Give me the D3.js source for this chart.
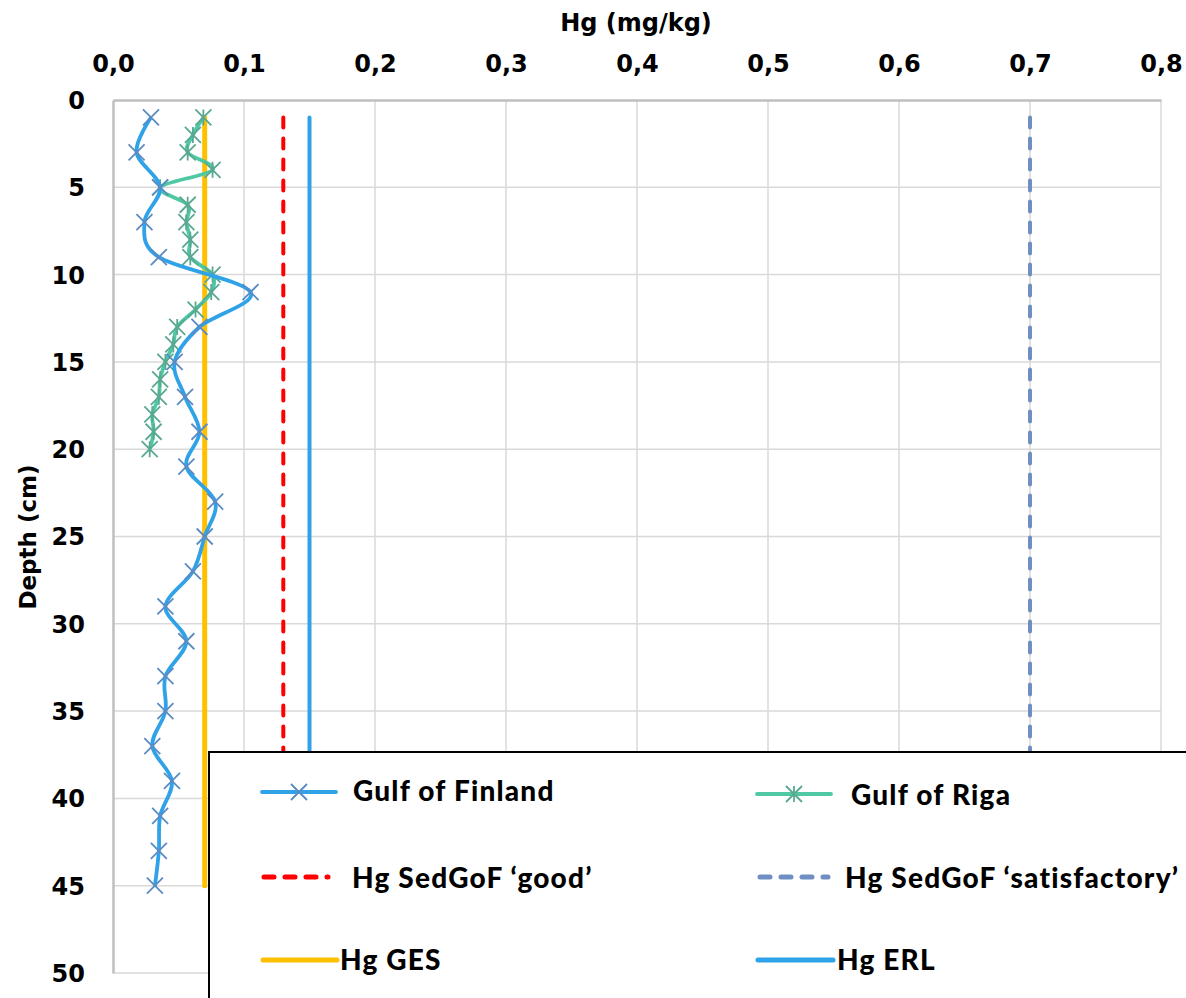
<!DOCTYPE html>
<meta charset="utf-8">
<style>
  body { margin: 0; background: #fff; }
  text { font-family: "DejaVu Sans", sans-serif; font-weight: bold; fill: #000; }
  .tick text { font-size: 24px; font-family: "DejaVu Sans", sans-serif; }
  .grid line { stroke: #d9d9d9; stroke-width: 1.5px; }
  .legend text { font-size: 28px; font-family: Lato, sans-serif; font-weight: 900; letter-spacing: 1.2px; }
</style>
<svg width="1186" height="998"></svg>
<script src="https://d3js.org/d3.v7.min.js"></script>
<script>

  // Gulf of Finland: sampled every 2 cm
  var finlandDepth = [1, 3, 5, 7, 9, 11, 13, 15, 17, 19, 21, 23, 25, 27, 29, 31, 33, 35, 37, 39, 41, 43, 45];
  var finlandHg = [0.029, 0.018, 0.036, 0.024, 0.035, 0.105, 0.066, 0.047, 0.055, 0.066, 0.056, 0.078, 0.070,
    0.061, 0.040, 0.056, 0.040, 0.040, 0.030, 0.045, 0.036, 0.035, 0.032];

  // Gulf of Riga: sampled every cm
  var rigaDepth = [1, 2, 3, 4, 5, 6, 7, 8, 9, 10, 11, 12, 13, 14, 15, 16, 17, 18, 19, 20];
  var rigaHg = [0.069, 0.061, 0.057, 0.076, 0.036, 0.057, 0.056, 0.059, 0.059, 0.076, 0.075, 0.063, 0.049,
    0.046, 0.040, 0.036, 0.035, 0.030, 0.031, 0.028];

  // threshold lines
  var thresholdNames = ["Hg SedGoF \u2018good\u2019", "Hg SedGoF \u2018satisfactory\u2019", "Hg GES", "Hg ERL"];
  var thresholdValues = [0.13, 0.70, 0.07, 0.15];
  var thresholdDepth = [1, 45];

  var xTicks = [0, 0.1, 0.2, 0.3, 0.4, 0.5, 0.6, 0.7, 0.8];
  var yTicks = [0, 5, 10, 15, 20, 25, 30, 35, 40, 45, 50];

  var svg = d3.select("svg");

  var x = d3.scaleLinear().domain([0, 0.8]).range([113, 1161]);
  var y = d3.scaleLinear().domain([0, 50]).range([100, 973]);

  // grid
  var grid = svg.append("g").attr("class", "grid");
  grid.selectAll(".gx").data(xTicks.slice(1)).enter().append("line")
    .attr("x1", d => x(d)).attr("x2", d => x(d))
    .attr("y1", y(0)).attr("y2", y(50));
  grid.selectAll(".gy").data(yTicks.slice(1)).enter().append("line")
    .attr("x1", x(0)).attr("x2", x(0.8))
    .attr("y1", d => y(d)).attr("y2", d => y(d));

  // axes
  var fmt = d => d3.format(".1f")(d).replace(".", ",");
  var xAxis = svg.append("g")
    .attr("transform", "translate(0," + y(0) + ")")
    .call(d3.axisTop(x).tickValues(xTicks).tickFormat(fmt).tickSize(0).tickPadding(28));
  var yAxis = svg.append("g")
    .attr("transform", "translate(" + x(0) + ",0)")
    .call(d3.axisLeft(y).tickValues(yTicks).tickSize(0).tickPadding(28));
  svg.selectAll(".domain").attr("stroke", "#bfbfbf").attr("stroke-width", 2.5);
  yAxis.selectAll(".tick text").attr("dy", "0.35em");

  svg.append("text").attr("x", 636).attr("y", 31).attr("text-anchor", "middle")
    .style("font-size", "24px").text("Hg (mg/kg)");
  svg.append("text").attr("transform", "translate(36,537) rotate(-90)").attr("text-anchor", "middle")
    .style("font-size", "23px").text("Depth (cm)");

  // threshold lines
  var thrStyle = [
    { color: "#ff0000", width: 4, dash: "10,11" },
    { color: "#6f8fc2", width: 4, dash: "10,11" },
    { color: "#ffc000", width: 5, dash: null },
    { color: "#2ea3ea", width: 4, dash: null }
  ];
  var order = [2, 0, 3, 1];
  order.forEach(function (i) {
    svg.append("line")
      .attr("x1", x(thresholdValues[i])).attr("x2", x(thresholdValues[i]))
      .attr("y1", y(thresholdDepth[0])).attr("y2", y(thresholdDepth[1]))
      .attr("stroke", thrStyle[i].color).attr("stroke-width", thrStyle[i].width)
      .attr("stroke-linecap", "round")
      .attr("stroke-dasharray", thrStyle[i].dash);
  });

  var line = d3.line().curve(d3.curveCatmullRom.alpha(0));

  function drawSeries(depths, vals, lineColor, markColor, star) {
    var pts = depths.map((d, i) => [x(vals[i]), y(d)]);
    svg.append("path").attr("d", line(pts)).attr("fill", "none")
      .attr("stroke", lineColor).attr("stroke-width", 3.8);
    var m = svg.append("g");
    pts.forEach(function (p) {
      drawMarker(m, p[0], p[1], markColor, star);
    });
  }

  function drawMarker(g, cx, cy, color, star) {
    var r = 8;
    var p = "M" + (cx - r) + "," + (cy - r) + "L" + (cx + r) + "," + (cy + r) +
      "M" + (cx - r) + "," + (cy + r) + "L" + (cx + r) + "," + (cy - r);
    if (star) p += "M" + cx + "," + (cy - r) + "L" + cx + "," + (cy + r);
    g.append("path").attr("d", p).attr("stroke", color).attr("stroke-width", 1.8).attr("fill", "none");
  }

  drawSeries(rigaDepth, rigaHg, "#4ec9a3", "#5aa892", true);
  drawSeries(finlandDepth, finlandHg, "#30a2e8", "#5b8bc2", false);

  // legend
  var lg = svg.append("g").attr("class", "legend");
  lg.append("rect").attr("x", 209).attr("y", 752).attr("width", 990).attr("height", 260)
    .attr("fill", "#fff").attr("stroke", "#000").attr("stroke-width", 2);

  function legendLine(x1, x2, yy, color, width, dash) {
    lg.append("line").attr("x1", x1).attr("x2", x2).attr("y1", yy).attr("y2", yy)
      .attr("stroke", color).attr("stroke-width", width).attr("stroke-linecap", "round")
      .attr("stroke-dasharray", dash);
  }
  function legendText(tx, ty, s) {
    lg.append("text").attr("x", tx).attr("y", ty).attr("dy", "0.35em").text(s);
  }

  legendLine(262, 336, 792, "#30a2e8", 3.8, null);
  drawMarker(lg, 299, 792, "#5b8bc2", false);
  legendText(353, 791, "Gulf of Finland");

  legendLine(757, 831, 794, "#4ec9a3", 3.8, null);
  drawMarker(lg, 794, 794, "#5aa892", true);
  legendText(851, 795, "Gulf of Riga");

  legendLine(264, 328, 877, thrStyle[0].color, 5, "10,11");
  legendText(352, 878, thresholdNames[0]);
  legendLine(760, 828, 877, thrStyle[1].color, 5, "10,11");
  legendText(845, 878, thresholdNames[1]);

  legendLine(263, 337, 960, thrStyle[2].color, 5, null);
  legendText(340, 960, thresholdNames[2]);
  legendLine(758, 833, 960, thrStyle[3].color, 5, null);
  legendText(837, 960, thresholdNames[3]);

</script>
